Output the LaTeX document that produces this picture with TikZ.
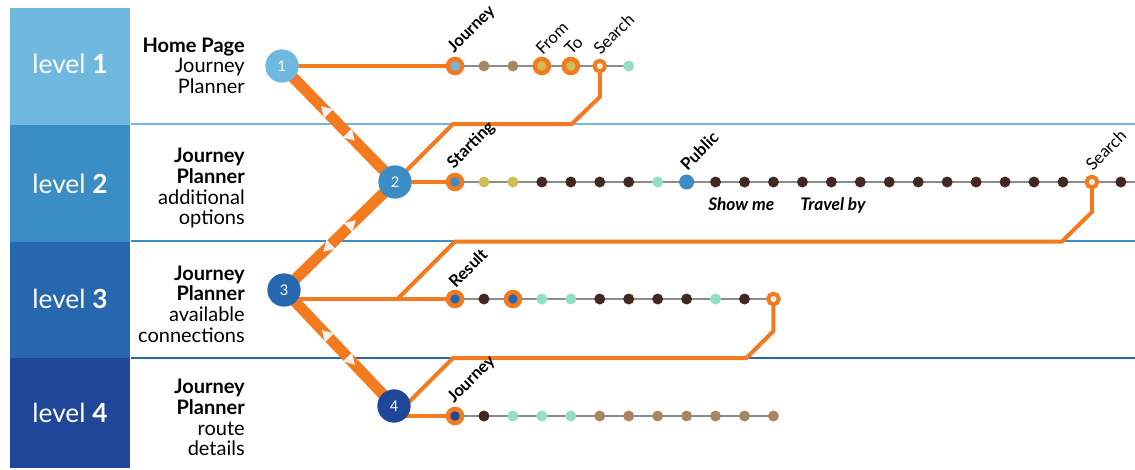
\documentclass[tikz,border=0pt]{standalone}
\usepackage{fontspec}
\setmainfont{Lato}
\usetikzlibrary{shapes.geometric,calc}
\definecolor{lvA}{RGB}{111,185,225}
\definecolor{lvB}{RGB}{58,141,197}
\definecolor{lvC}{RGB}{39,103,175}
\definecolor{lvD}{RGB}{31,70,152}
\definecolor{orng}{RGB}{244,122,32}
\definecolor{grayl}{RGB}{140,140,140}
\definecolor{tan}{RGB}{168,134,96}
\definecolor{dkbr}{RGB}{66,40,34}
\definecolor{oliv}{RGB}{205,190,85}
\definecolor{mint}{RGB}{143,224,197}
\definecolor{pale}{RGB}{222,242,236}
\definecolor{triw}{RGB}{242,242,242}
\pgfdeclarelayer{back}
\pgfdeclarelayer{mid}
\pgfsetlayers{back,mid,main}
\tikzset{
  lvtext/.style={text=white, inner sep=0, font=\fontsize{19.75pt}{22pt}\selectfont},
  desc/.style={align=right, anchor=north east, inner sep=0, font=\fontsize{15pt}{15.5pt}\selectfont},
  sepline/.style={line width=1.5pt},
  hub/.style={circle, inner sep=0, minimum size=25pt, text=white, font=\fontsize{11pt}{12pt}\selectfont},
  band/.style={orng, line width=8.25pt},
  tri/.style={isosceles triangle, isosceles triangle stretches, minimum height=8pt, minimum width=9.5pt, inner sep=0, fill=triw, sloped, allow upside down},
  oline/.style={orng, line width=3pt},
  track/.style={grayl, line width=1.5pt},
  ringb/.style={circle, draw=orng, line width=3.4pt, minimum size=10.5pt, inner sep=0},
  Rlb/.style={ringb, fill=lvA},
  Rb2/.style={ringb, fill=lvB},
  Rb3/.style={ringb, fill=lvC},
  Rb4/.style={ringb, fill=lvD},
  Rol/.style={ringb, fill=oliv},
  Rs/.style={circle, draw=orng, line width=3pt, minimum size=8pt, inner sep=0, fill=pale},
  dotb/.style={circle, minimum size=8.25pt, inner sep=0},
  Db/.style={dotb, fill=tan},
  Dd/.style={dotb, fill=dkbr},
  Do/.style={dotb, fill=oliv},
  Dm/.style={dotb, fill=mint},
  Dp/.style={circle, minimum size=11.25pt, inner sep=0, fill=lvB},
  lab/.style={rotate=45, anchor=south west, inner sep=0, font=\fontsize{12.5pt}{14pt}\selectfont},
  labB/.style={lab, font=\fontsize{12.5pt}{14pt}\selectfont\bfseries},
  itl/.style={anchor=base west, inner sep=0, font=\fontsize{13pt}{14pt}\selectfont\bfseries\itshape},
}
\begin{document}
\begin{tikzpicture}[x=0.75pt,y=-0.75pt]
\useasboundingbox (0,0) rectangle (1135,469);
% level boxes
\begin{pgfonlayer}{back}
\fill[lvA] (10,8) rectangle (130,125);
\fill[lvB] (10,125) rectangle (130,241.5);
\fill[lvC] (10,241.5) rectangle (130,357.5);
\fill[lvD] (10,357.5) rectangle (130,468);
\draw[sepline,lvA] (131,124) -- (1135,124);
\draw[sepline,lvB] (131,241) -- (1135,241);
\draw[sepline,lvC] (131,357.5) -- (1135,357.5);
\end{pgfonlayer}
\node[lvtext] (L1) at (70,64) {level \textbf{1}};
\node[lvtext] (L2) at (70,184) {level \textbf{2}};
\node[lvtext] (L3) at (70,299) {level \textbf{3}};
\node[lvtext] (L4) at (70,413) {level \textbf{4}};
\node[desc] (D1) at (245,37.5) {\textbf{Home Page}\\Journey\\Planner};
\node[desc] (D2) at (245,148) {\textbf{Journey}\\\textbf{Planner}\\additional\\options};
\node[desc] (D3) at (245,265.5) {\textbf{Journey}\\\textbf{Planner}\\available\\connections};
\node[desc] (D4) at (245,379) {\textbf{Journey}\\\textbf{Planner}\\route\\details};
% hubs
\node[hub, fill=lvA] (n1) at (282,66) {1};
\node[hub, fill=lvB] (n2) at (395,182) {2};
\node[hub, fill=lvC] (n3) at (284,290) {3};
\node[hub, fill=lvD] (n4) at (394,406) {4};
% stations
\foreach \k/\s in {0/Rlb,1/Db,2/Db,3/Rol,4/Rol,5/Rs,6/Dm}
  \node[\s] (r1-\k) at ({455+28.95*\k},66) {};
\foreach \k/\s in {0/Rb2,1/Do,2/Do,3/Dd,4/Dd,5/Dd,6/Dd,7/Dm,8/Dp,9/Dd,10/Dd,11/Dd,12/Dd,13/Dd,14/Dd,15/Dd,16/Dd,17/Dd,18/Dd,19/Dd,20/Dd,21/Dd,22/Rs,23/Dd}
  \node[\s] (r2-\k) at ({455+28.95*\k},182) {};
\foreach \k/\s in {0/Rb3,1/Dd,2/Rb3,3/Dm,4/Dm,5/Dd,6/Dd,7/Dd,8/Dd,9/Dm,10/Dd,11/Rs}
  \node[\s] (r3-\k) at ({455+28.95*\k},299) {};
\foreach \k/\s in {0/Rb4,1/Dd,2/Dm,3/Dm,4/Dm,5/Db,6/Db,7/Db,8/Db,9/Db,10/Db,11/Db}
  \node[\s] (r4-\k) at ({455+28.95*\k},416) {};
\coordinate (r2end) at (1135,182);
% return paths coordinates
\coordinate (p1a) at ($(r1-5.center)+(0,31)$);
\coordinate (p1b) at ($(p1a)+(-28,27)$);
\coordinate (p1c) at (453,124);
\coordinate (p2a) at ($(r2-22.center)+(0,30)$);
\coordinate (p2b) at ($(p2a)+(-30,29.5)$);
\coordinate (p2c) at (455,241.5);
\coordinate (p2d) at (397.5,299);
\coordinate (p3a) at ($(r3-11.center)+(0,32)$);
\coordinate (p3b) at ($(p3a)+(-27,27)$);
\coordinate (p3c) at (453,358);
\coordinate (p3d) at (405,406);
\begin{pgfonlayer}{mid}
\draw[track] (r1-0.center) -- (r1-6.center);
\draw[track] (r2-0.center) -- (r2end);
\draw[track] (r3-0.center) -- (r3-11.center);
\draw[track] (r4-0.center) -- (r4-11.center);
\draw[oline] (n1.center) -- (r1-0.center);
\draw[oline] (n2.center) -- (r2-0.center);
\draw[oline] (n3.center |- r3-0.center) -- (r3-0.center);
\draw[oline] (n4.center |- r4-0.center) -- (r4-0.center);
\draw[oline] (r1-5.center) -- (p1a) -- (p1b) -- (p1c) -- (n2.center);
\draw[oline] (r2-22.center) -- (p2a) -- (p2b) -- (p2c) -- (p2d);
\draw[oline] (r3-11.center) -- (p3a) -- (p3b) -- (p3c) -- (p3d);
\draw[band] (n1.center) -- (n2.center);
\draw[band] (n2.center) -- (n3.center);
\draw[band] (n3.center) -- (n4.center);
\end{pgfonlayer}
% triangles
\path (n1.center) -- (n2.center)
  node[tri, pos=0.39, shape border rotate=180] (t1a) {}
  node[tri, pos=0.6] (t1b) {};
\path (n2.center) -- (n3.center)
  node[tri, pos=0.4, shape border rotate=180] (t2a) {}
  node[tri, pos=0.6] (t2b) {};
\path (n3.center) -- (n4.center)
  node[tri, pos=0.39, shape border rotate=180] (t3a) {}
  node[tri, pos=0.6] (t3b) {};
% labels
\node[labB] (a1) at ($(r1-0.center)+(1,-10)$) {Journey};
\node[lab] (a2) at ($(r1-3.center)+(1,-10)$) {From};
\node[lab] (a3) at ($(r1-4.center)+(1,-10)$) {To};
\node[lab] (a4) at ($(r1-5.center)+(1,-10)$) {Search};
\node[labB] (b1) at ($(r2-0.center)+(1,-10)$) {Starting};
\node[labB] (b2) at ($(r2-8.center)+(1,-10)$) {Public};
\node[lab] (b3) at ($(r2-22.center)+(1,-10)$) {Search};
\node[labB] (c1) at ($(r3-0.center)+(1,-10)$) {Result};
\node[labB] (d1) at ($(r4-0.center)+(1,-10)$) {Journey};
\node[itl] (s1) at (708,210) {Show me};
\node[itl] (s2) at (800,210) {Travel by};
\end{tikzpicture}
\end{document}
